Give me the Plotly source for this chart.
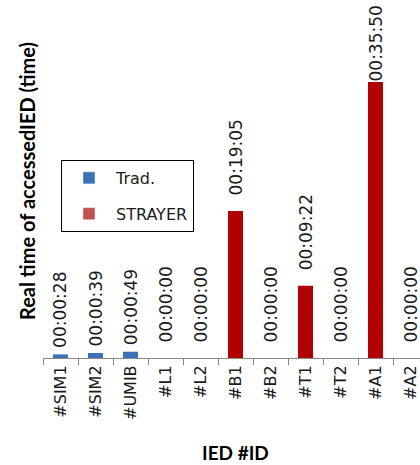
import plotly.graph_objects as go

categories = ["#SIM1", "#SIM2", "#UMIB", "#L1", "#L2", "#B1", "#B2", "#T1", "#T2", "#A1", "#A2"]
# seconds
trad_seconds = [28, 39, 49, None, None, None, None, None, None, None, None]
strayer_seconds = [None, None, None, 0, 0, 1145, 0, 562, 0, 2150, 0]

def fmt(s):
    return "%02d:%02d:%02d" % (s // 3600, (s % 3600) // 60, s % 60)

W, H = 420, 465
ML, MB, MT = 43, 107, 0
plot_h = H - MB - MT
px_per_s = 0.1284
ymax = plot_h / px_per_s
n_vis = (W - ML) / 35.0

fig = go.Figure()
fig.add_trace(go.Bar(x=categories, y=trad_seconds, name="Trad.", marker=dict(color="#3A72B8", line=dict(width=0)),
                     width=0.43, showlegend=False))
fig.add_trace(go.Bar(x=categories, y=strayer_seconds, name="STRAYER", marker=dict(color="#B00000", line=dict(width=0)),
                     width=0.43, showlegend=False))
# legend entries (Excel legend colours)
fig.add_trace(go.Bar(x=categories, y=[None] * len(categories), name="Trad.", marker=dict(color="#3A72B8"),
                     legendgroup="a"))
fig.add_trace(go.Bar(x=categories, y=[None] * len(categories), name="STRAYER", marker=dict(color="#C0504D"),
                     legendgroup="b"))

label_font = dict(family="DejaVu Sans", size=17, color="#1a1a1a")
label_len = 84
annotations = []
for series, gap in ((trad_seconds, 4), (strayer_seconds, 13)):
    for c, v in zip(categories, series):
        if v is None:
            continue
        room = plot_h - v * px_per_s - label_len
        shift = min(gap, room)
        annotations.append(dict(x=c, y=v, xref="x", yref="y", text=fmt(v), textangle=-90, showarrow=False,
                                yanchor="bottom", xanchor="center", yshift=shift, font=label_font))

annotations.append(dict(text="<b>Real time of accessedIED (time)</b>", xref="paper", yref="paper", x=0, y=(358 - 181) / plot_h,
                        xanchor="right", yanchor="middle", xshift=-2, textangle=-90, showarrow=False,
                        font=dict(family="Lato", size=20, color="#000000")))
annotations.append(dict(text="<b>IED #ID</b>", xref="paper", yref="paper", x=0.5, y=0, xanchor="center",
                        yanchor="middle", yshift=-94, xshift=4, showarrow=False,
                        font=dict(family="Lato", size=19, color="#000000")))

fig.update_layout(
    width=W, height=H,
    margin=dict(l=ML, r=0, t=MT, b=MB),
    paper_bgcolor="white", plot_bgcolor="white",
    barmode="overlay",
    showlegend=True,
    legend=dict(x=(61 - ML) / (W - ML), y=(358 - 160) / plot_h, xanchor="left", yanchor="top",
                bordercolor="#000000", borderwidth=1, bgcolor="white",
                font=dict(family="DejaVu Sans", size=16, color="#1a1a1a"),
                tracegroupgap=12, itemwidth=44),
    xaxis=dict(type="category", range=[-0.5, -0.5 + n_vis], tickson="boundaries", ticks="outside", ticklen=6,
               tickcolor="#888888", showline=True, linecolor="#888888", linewidth=1, showgrid=False,
               tickangle=-90, tickfont=dict(family="DejaVu Sans", size=16, color="#1a1a1a"), fixedrange=True),
    yaxis=dict(range=[0, ymax], showgrid=False, zeroline=False, showticklabels=False, ticks="", showline=False,
               fixedrange=True),
    annotations=annotations,
)

fig.write_html("out.html")
